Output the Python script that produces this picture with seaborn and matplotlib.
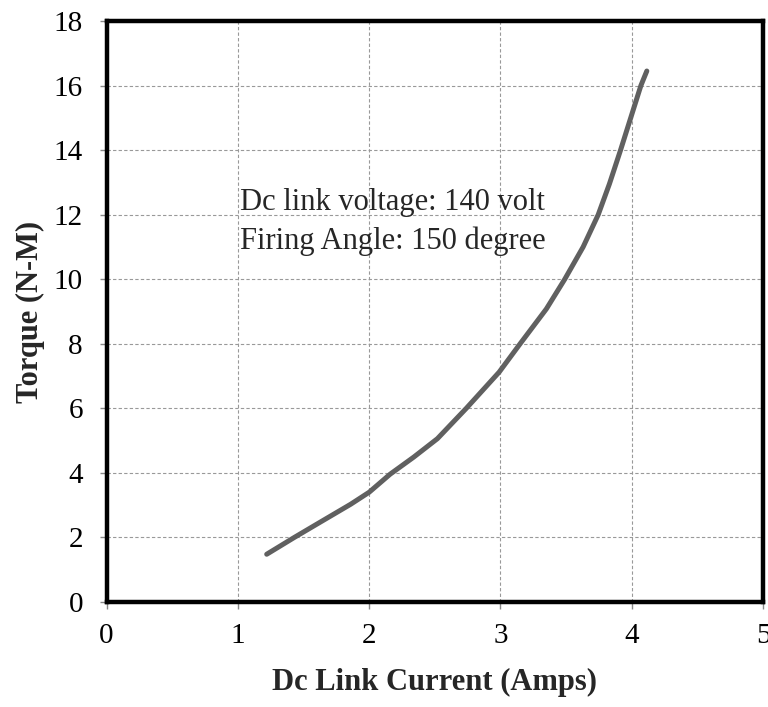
import numpy as np
import pandas as pd
import seaborn as sns
import matplotlib.pyplot as plt

current = [1.22, 1.43, 1.63, 1.86, 2.00, 2.16, 2.34, 2.52, 2.74, 2.99, 3.15, 3.35, 3.49, 3.63, 3.745, 3.83, 3.915, 4.07, 4.115]
torque = [1.48, 2.00, 2.48, 3.03, 3.40, 3.96, 4.49, 5.06, 6.00, 7.12, 8.00, 9.08, 10.0, 11.0, 12.0, 12.95, 14.0, 16.0, 16.45]

df = pd.DataFrame({"current": current, "torque": torque})

sns.set_style("white")
plt.rcParams["font.family"] = ["Liberation Serif", "DejaVu Serif"]

fig = plt.figure(figsize=(7.68, 7.07), dpi=100)
ax = fig.add_axes([0.1387, 0.1485, 0.8548, 0.8218])

sns.lineplot(data=df, x="current", y="torque", ax=ax, color="#606060",
             linewidth=3.6, sort=False, solid_capstyle="round", solid_joinstyle="round")

ax.set_xlim(0, 5)
ax.set_ylim(0, 18)
ax.set_xticks(range(0, 6))
ax.set_yticks(range(0, 19, 2))
ax.grid(True, color="#999999", linestyle=(0, (3, 2)), linewidth=0.8)
ax.set_axisbelow(True)

for s in ax.spines.values():
    s.set_visible(True)
    s.set_color("black")
    s.set_linewidth(3.2)

ax.tick_params(axis="both", which="major", direction="out", length=5, width=1,
               color="#888888", labelsize=21, labelcolor="black",
               bottom=True, left=True)
ax.tick_params(axis="y", pad=12)
ax.tick_params(axis="x", pad=10)

ax.set_xlabel("Dc Link Current (Amps)", fontsize=22, fontweight="bold", labelpad=14)
ax.set_ylabel("Torque (N-M)", fontsize=22, fontweight="bold", labelpad=6)

ax.text(1.02, 11.77, "Dc link voltage: 140 volt\nFiring Angle: 150 degree",
        fontsize=22, va="center", ha="left", linespacing=1.4)

fig.savefig("out.png", dpi=100)
